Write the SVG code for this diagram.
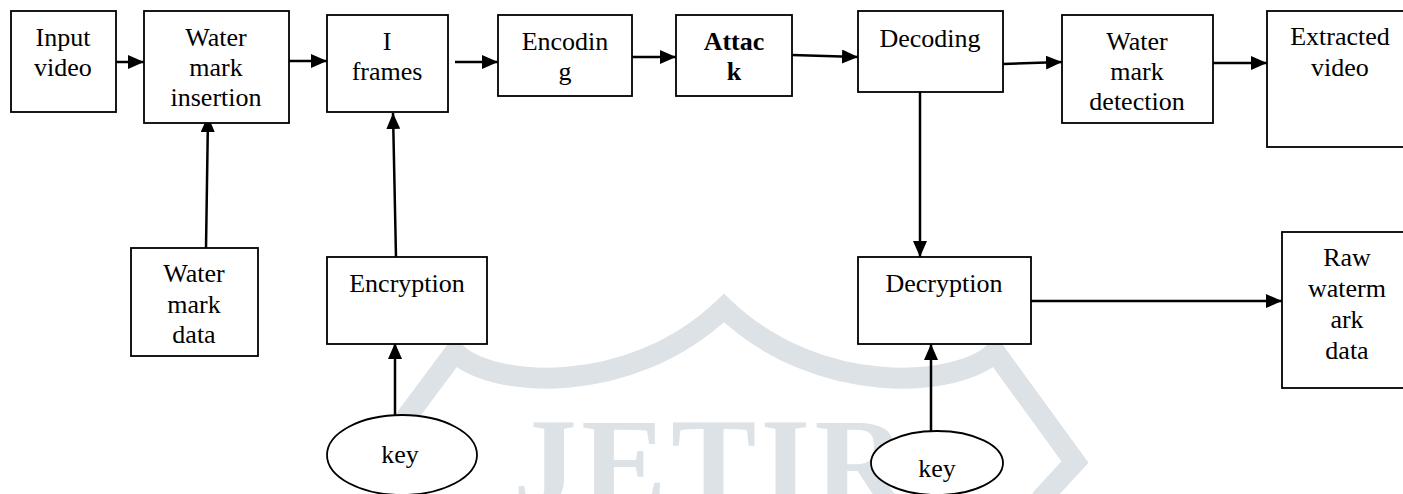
<svg xmlns="http://www.w3.org/2000/svg" width="1403" height="494" viewBox="0 0 1403 494">
<style>
.box{fill:#fff;stroke:#000;stroke-width:1.8}
.t{font-family:"Liberation Serif","Times New Roman",serif;font-size:26px;fill:#000;text-anchor:middle}
.b{font-weight:bold}
.c{stroke:#000;stroke-width:2.5;fill:none;marker-end:url(#ah)}
.wm{fill:none;stroke:#dde2e7;stroke-width:21;stroke-linejoin:miter}
</style>
<defs>
<marker id="ah" viewBox="0 0 16 14" refX="16" refY="7" markerWidth="16" markerHeight="14" markerUnits="userSpaceOnUse" orient="auto">
<path d="M0,0 L16,7 L0,14 z" fill="#000"/>
</marker>
</defs>
<rect width="1403" height="494" fill="#fff"/>
<g id="watermark">
<path class="wm" d="M390,500 L373,462 L455,352 C490,388 630,398 724,308 C818,398 958,388 995,352 L1075,462 L1040,500"/>
<text x="513" y="506" font-family="Liberation Serif, serif" font-weight="bold" font-size="128" fill="#dde2e7" textLength="394" lengthAdjust="spacing">JETIR</text>
</g>
<g id="connectors">
<line class="c" x1="116" y1="62" x2="144" y2="62"/>
<line class="c" x1="289" y1="61" x2="327" y2="61"/>
<line class="c" x1="455" y1="62" x2="498" y2="62"/>
<line class="c" x1="632" y1="57" x2="676" y2="57"/>
<line class="c" x1="792" y1="55" x2="858" y2="57"/>
<line class="c" x1="1003" y1="64" x2="1062" y2="62"/>
<line class="c" x1="1213" y1="63" x2="1267" y2="63"/>
<line class="c" x1="206" y1="248" x2="208" y2="116"/>
<line class="c" x1="396" y1="257" x2="393" y2="113"/>
<line class="c" x1="395" y1="415" x2="395" y2="343"/>
<line class="c" x1="920" y1="92" x2="920" y2="257"/>
<line class="c" x1="931" y1="431" x2="931" y2="344"/>
<line class="c" x1="1031" y1="301" x2="1282" y2="301"/>
</g>
<g id="input-video">
<rect class="box" x="11" y="11" width="105" height="101"/>
<text class="t" x="63" y="46">Input</text>
<text class="t" x="63" y="76">video</text>
</g>
<g id="watermark-insertion">
<rect class="box" x="144" y="11" width="145" height="112"/>
<text class="t" x="216" y="46">Water</text>
<text class="t" x="216" y="76">mark</text>
<text class="t" x="216" y="106">insertion</text>
</g>
<g id="i-frames">
<rect class="box" x="327" y="15" width="121" height="97"/>
<text class="t" x="387" y="50">I</text>
<text class="t" x="387" y="80">frames</text>
</g>
<g id="encoding">
<rect class="box" x="498" y="15" width="134" height="81"/>
<text class="t" x="565" y="50">Encodin</text>
<text class="t" x="565" y="80">g</text>
</g>
<g id="attack">
<rect class="box" x="676" y="15" width="116" height="81"/>
<text class="t b" x="734" y="50">Attac</text>
<text class="t b" x="734" y="80">k</text>
</g>
<g id="decoding">
<rect class="box" x="858" y="11" width="145" height="81"/>
<text class="t" x="930" y="47">Decoding</text>
</g>
<g id="watermark-detection">
<rect class="box" x="1062" y="15" width="151" height="108"/>
<text class="t" x="1137" y="50">Water</text>
<text class="t" x="1137" y="80">mark</text>
<text class="t" x="1137" y="110">detection</text>
</g>
<g id="extracted-video">
<rect class="box" x="1267" y="11" width="146" height="136"/>
<text class="t" x="1340" y="45">Extracted</text>
<text class="t" x="1340" y="76">video</text>
</g>
<g id="watermark-data">
<rect class="box" x="131" y="248" width="127" height="108"/>
<text class="t" x="194" y="282">Water</text>
<text class="t" x="194" y="313">mark</text>
<text class="t" x="194" y="343">data</text>
</g>
<g id="encryption">
<rect class="box" x="327" y="257" width="160" height="87"/>
<text class="t" x="407" y="292">Encryption</text>
</g>
<g id="decryption">
<rect class="box" x="858" y="257" width="173" height="87"/>
<text class="t" x="944" y="292">Decryption</text>
</g>
<g id="raw-watermark-data">
<rect class="box" x="1282" y="232" width="130" height="156"/>
<text class="t" x="1347" y="266">Raw</text>
<text class="t" x="1347" y="297">waterm</text>
<text class="t" x="1347" y="328">ark</text>
<text class="t" x="1347" y="359">data</text>
</g>
<g id="key-1">
<ellipse class="box" cx="402" cy="455" rx="75" ry="40"/>
<text class="t" x="400" y="463">key</text>
</g>
<g id="key-2">
<ellipse class="box" cx="937" cy="463" rx="66" ry="32"/>
<text class="t" x="937" y="477">key</text>
</g>
</svg>
